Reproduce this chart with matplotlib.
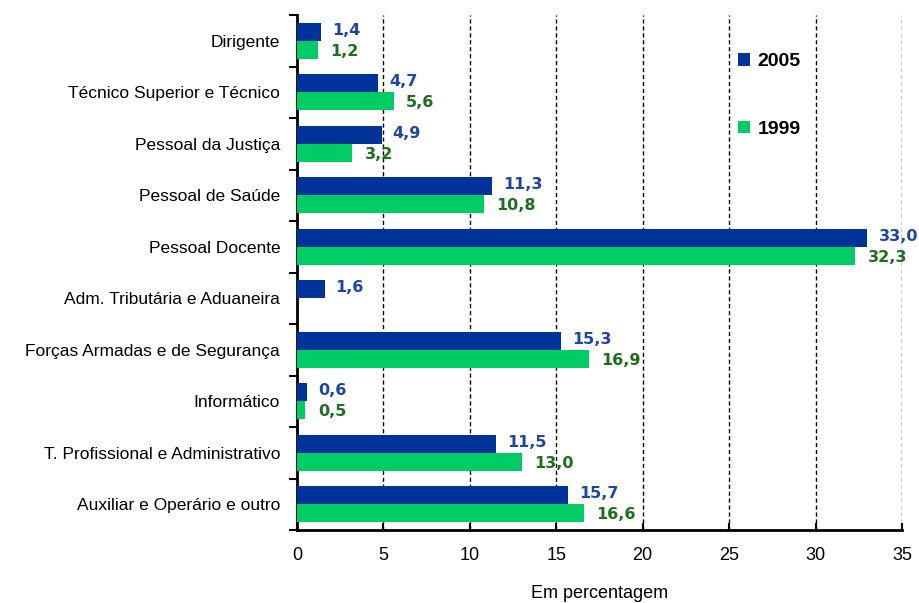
import matplotlib.pyplot as plt
import numpy as np

categories = ["Dirigente", "Técnico Superior e Técnico", "Pessoal da Justiça",
              "Pessoal de Saúde", "Pessoal Docente", "Adm. Tributária e Aduaneira",
              "Forças Armadas e de Segurança", "Informático",
              "T. Profissional e Administrativo", "Auxiliar e Operário e outro"]
v2005 = [1.4, 4.7, 4.9, 11.3, 33.0, 1.6, 15.3, 0.6, 11.5, 15.7]
v1999 = [1.2, 5.6, 3.2, 10.8, 32.3, np.nan, 16.9, 0.5, 13.0, 16.6]
xticks = [0, 5, 10, 15, 20, 25, 30, 35]

blue = "#003399"
green = "#00CC66"
blue_txt = "#1F45A8"
green_txt = "#1E6E1E"


def fmt(v):
    return ("%.1f" % v).replace(".", ",")


def main():
    fig = plt.figure(figsize=(9.19, 6.03), dpi=100)
    ax = fig.add_axes([0.323, 0.121, 0.6585, 0.854])

    n = len(categories)
    y = np.arange(n)
    h = 0.35
    ax.barh(y - h / 2, v2005, height=h, color=blue, label="2005", zorder=3)
    ax.barh(y + h / 2, v1999, height=h, color=green, label="1999", zorder=3)

    # value labels
    for i in range(n):
        if not np.isnan(v2005[i]):
            ax.annotate(fmt(v2005[i]), (v2005[i], y[i] - h / 2), xytext=(8, 1),
                        textcoords="offset points", va="center", ha="left",
                        color=blue_txt, fontweight="bold", fontsize=11.5,
                        family="DejaVu Sans", zorder=4)
        if not np.isnan(v1999[i]):
            ax.annotate(fmt(v1999[i]), (v1999[i], y[i] + h / 2), xytext=(9, -1),
                        textcoords="offset points", va="center", ha="left",
                        color=green_txt, fontweight="bold", fontsize=11.5,
                        family="DejaVu Sans", zorder=4)

    ax.set_ylim(n - 0.5, -0.5)
    ax.set_xlim(0, 35)

    # category boundary ticks on y axis
    ax.set_yticks(np.arange(n + 1) - 0.5)
    ax.set_yticklabels([])
    ax.set_yticks(y, minor=True)
    ax.set_yticklabels(categories, minor=True, family="Liberation Sans", fontsize=12.5)
    ax.tick_params(axis="y", which="minor", length=0, pad=12)
    ax.tick_params(axis="y", which="major", length=6, width=1.5, direction="out")

    ax.set_xticks(xticks)
    ax.set_xticklabels([str(t) for t in xticks], family="Liberation Sans", fontsize=13)
    ax.tick_params(axis="x", length=5, width=1.5, direction="in", pad=12)

    for t in xticks[1:]:
        ax.axvline(t, color="black", linestyle=(0, (3, 2)), linewidth=1, zorder=1)

    for s in ["top", "right"]:
        ax.spines[s].set_visible(False)
    for s in ["left", "bottom"]:
        ax.spines[s].set_linewidth(2)

    ax.set_xlabel("Em percentagem", family="Liberation Sans", fontsize=13, labelpad=15)

    ax.legend(loc="upper left", bbox_to_anchor=(0.7, 0.96), frameon=False,
              labelspacing=2.6, handlelength=0.6, handleheight=0.6,
              handletextpad=0.4, prop={"family": "Liberation Sans",
                                       "weight": "bold", "size": 14})

    plt.savefig("out.png", dpi=100)


if __name__ == '__main__':
    main()
